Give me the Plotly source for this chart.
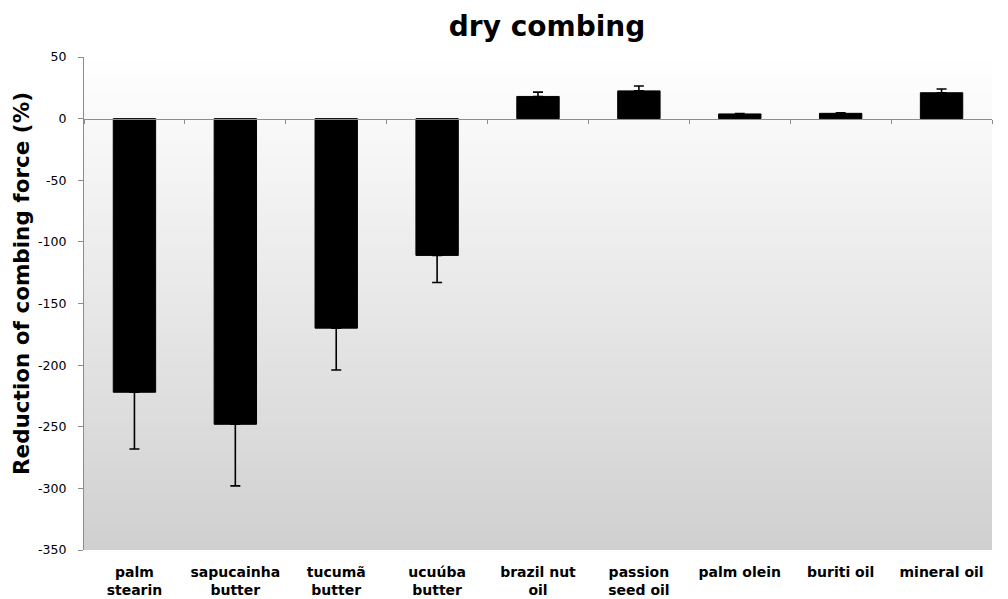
import plotly.graph_objects as go

categories = ["palm<br>stearin", "sapucainha<br>butter", "tucumã<br>butter", "ucuúba<br>butter",
              "brazil nut<br>oil", "passion<br>seed oil", "palm olein", "buriti oil", "mineral oil"]
values = [-222, -248, -170, -111, 18, 22.5, 3.8, 4.3, 21]
errors = [46, 50, 34, 22, 3.5, 4, 0.4, 0.5, 3]
y_ticks = [50, 0, -50, -100, -150, -200, -250, -300, -350]
y_tick_text = ["50", "0", "-50", "-100", "-150", "-200", "-250", "-300", "-350"]

err_plus = [e if v >= 0 else 0 for v, e in zip(values, errors)]
err_minus = [e if v < 0 else 0 for v, e in zip(values, errors)]

fig = go.Figure()
fig.add_trace(go.Bar(
    x=categories, y=values,
    marker=dict(color="black", line=dict(color="black", width=1)),
    width=0.42,
    error_y=dict(type="data", symmetric=False, array=err_plus, arrayminus=err_minus,
                 color="black", thickness=1.6, width=5),
    showlegend=False,
))
# invisible helper trace to draw the category axis line at y = 0
fig.add_trace(go.Scatter(x=categories, y=[0] * len(categories), xaxis="x2",
                         mode="markers", marker=dict(opacity=0), showlegend=False,
                         hoverinfo="skip"))

# gradient background bands
n = 80
shapes = []
top = (255, 255, 255)
bot = (208, 208, 208)
for i in range(n):
    t = (i + 0.5) / n
    c = tuple(round(top[k] + (bot[k] - top[k]) * t) for k in range(3))
    shapes.append(dict(type="rect", xref="x domain", yref="y domain",
                       x0=0, x1=1, y0=1 - (i + 1) / n, y1=1 - i / n + 0.002,
                       fillcolor="rgb(%d,%d,%d)" % c, line=dict(width=0), layer="below"))

fig.update_layout(
    width=1000, height=591,
    margin=dict(l=76, r=16, t=49, b=49),
    paper_bgcolor="white", plot_bgcolor="white",
    shapes=shapes,
    title=dict(text="<b>dry combing</b>", x=0.51, xref="paper", xanchor="center",
               y=0.9695, yref="container", yanchor="middle",
               font=dict(family="DejaVu Sans", size=28, color="black")),
    annotations=[dict(text="<b>Reduction of combing force (%)</b>", textangle=-90,
                      xref="paper", yref="paper", x=-0.0683, y=0.5416,
                      xanchor="center", yanchor="middle", showarrow=False,
                      font=dict(family="DejaVu Sans", size=21.5, color="black"))],
    xaxis=dict(type="category", range=[-0.5, 8.5], showline=False, ticks="",
               showgrid=False, automargin=False,
               tickfont=dict(family="DejaVu Sans", size=14, color="black", weight="bold"),
               ticklabelstandoff=12),
    xaxis2=dict(type="category", range=[-0.5, 8.5], overlaying="x", anchor="free", position=0.875,
                side="bottom", showline=True, linecolor="#8c8c8c", linewidth=1.2,
                ticks="outside", tickson="boundaries", ticklen=4, tickcolor="#8c8c8c",
                showticklabels=False, showgrid=False, automargin=False),
    yaxis=dict(range=[-350, 50], tickvals=y_ticks, ticktext=y_tick_text, showline=True,
               linecolor="#8c8c8c", automargin=False,
               linewidth=1.2, ticks="outside", ticklen=5, tickcolor="#8c8c8c",
               showgrid=False, zeroline=False, ticklabelstandoff=9,
               tickfont=dict(family="DejaVu Sans", size=12.5, color="black")),
)

fig.write_html("out.html")
